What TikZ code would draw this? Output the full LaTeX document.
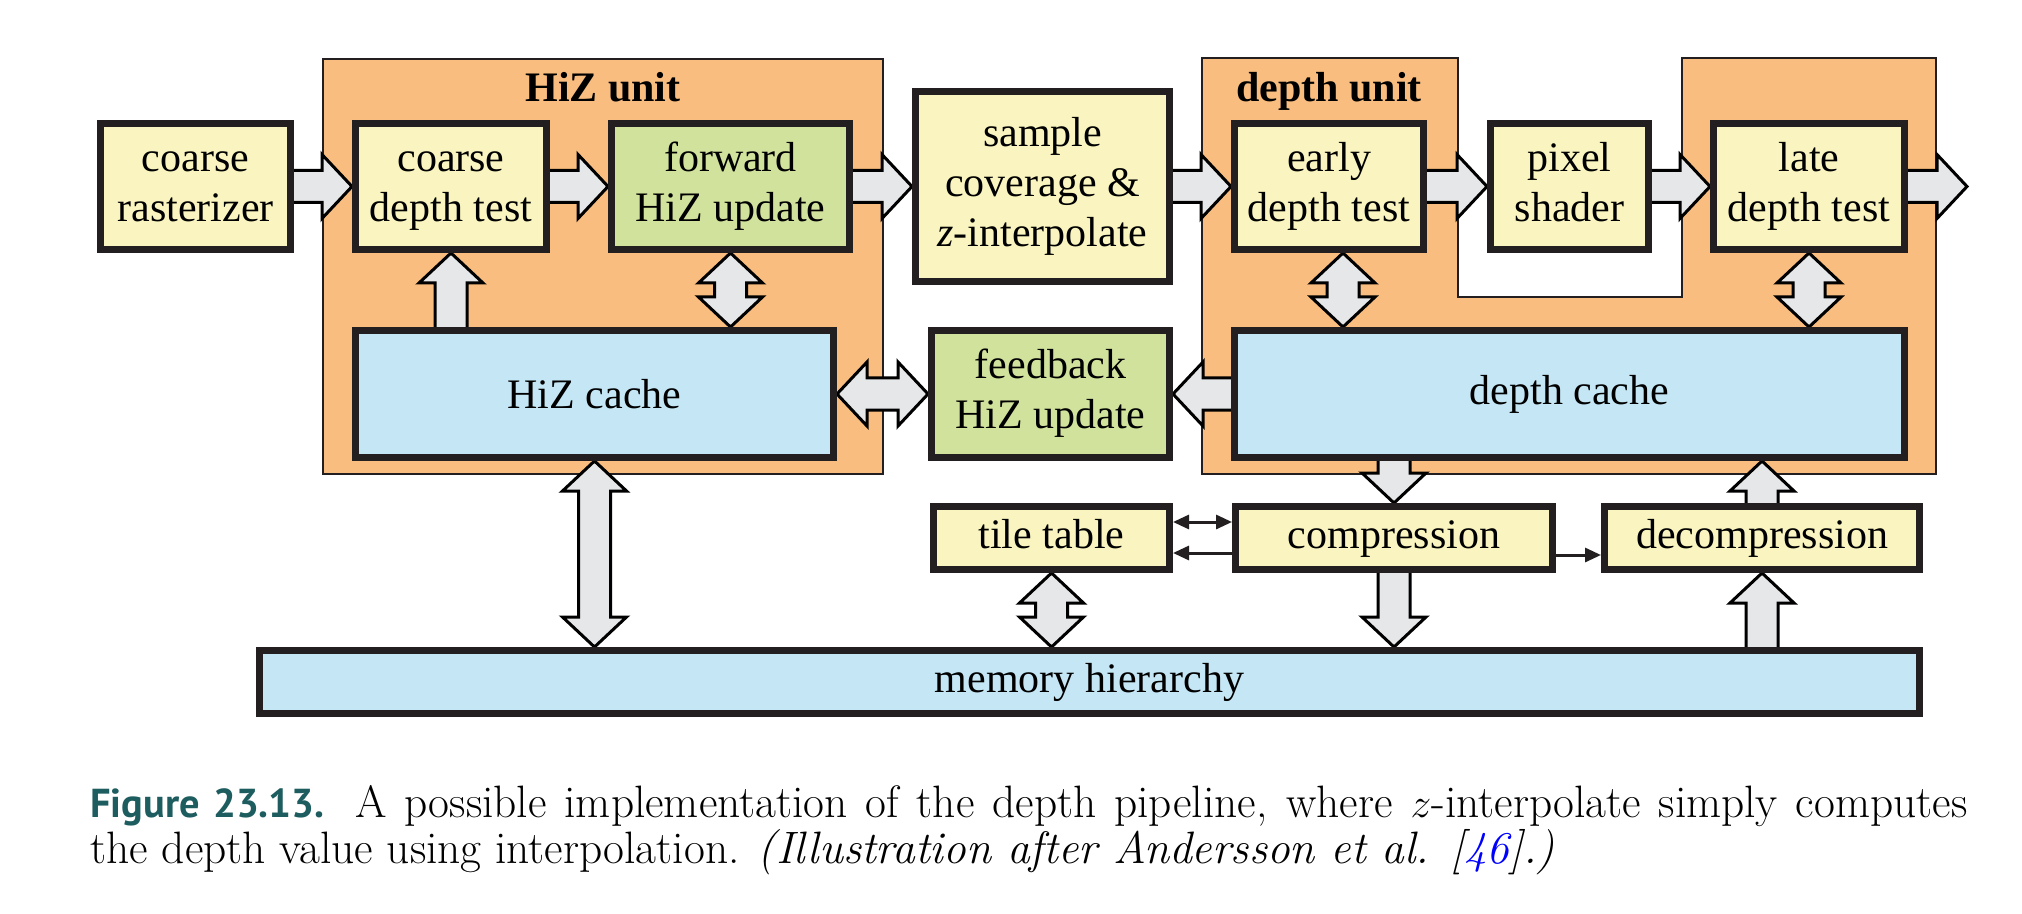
\documentclass[tikz,border=0pt]{standalone}
\usepackage{fontspec}
\usetikzlibrary{calc,arrows.meta}
\newfontfamily\diagfont{Liberation Serif}
\newfontfamily\figfont{PT Sans}
\definecolor{orng}{HTML}{F9BD7F}
\definecolor{ylw}{HTML}{FAF5C0}
\definecolor{grn}{HTML}{D1E29D}
\definecolor{blu}{HTML}{C5E7F5}
\definecolor{agray}{HTML}{E6E7E9}
\definecolor{ink}{HTML}{231F20}
\definecolor{teal}{HTML}{1D5C5F}
\pgfdeclarelayer{back}
\pgfdeclarelayer{mid}
\pgfsetlayers{back,mid,main}
\tikzset{
  box/.style={draw=ink, line width=3.5pt, inner sep=0pt, align=center,
    font=\diagfont\fontsize{21}{25}\selectfont},
  ybox/.style={box, fill=ylw},
  gbox/.style={box, fill=grn},
  bbox/.style={box, fill=blu},
  unit/.style={fill=orng, draw=ink, line width=1pt},
  utitle/.style={font=\diagfont\bfseries\fontsize{21}{25}\selectfont, anchor=base, inner sep=0pt},
  blk/.style={fill=agray, draw=black, line width=1.5pt, line join=miter},
  thinarr/.style={draw=ink, line width=1.5pt},
  captxt/.style={anchor=base west, inner sep=0pt, align=left, font=\fontsize{22.7}{21.5}\selectfont},
}
% block arrows (tail, tip)
\newcommand\arrR[2]{\draw[blk] let \p1=(#1),\p2=(#2) in
 (\x1-6pt,\y1+8pt) -- (\x2-15pt,\y1+8pt) -- (\x2-15pt,\y1+16pt) -- (\x2,\y1) -- (\x2-15pt,\y1-16pt) -- (\x2-15pt,\y1-8pt) -- (\x1-6pt,\y1-8pt) -- cycle;}
\newcommand\arrL[2]{\draw[blk] let \p1=(#1),\p2=(#2) in
 (\x1+6pt,\y1+8pt) -- (\x2+15pt,\y1+8pt) -- (\x2+15pt,\y1+16pt) -- (\x2,\y1) -- (\x2+15pt,\y1-16pt) -- (\x2+15pt,\y1-8pt) -- (\x1+6pt,\y1-8pt) -- cycle;}
\newcommand\arrU[2]{\draw[blk] let \p1=(#1),\p2=(#2) in
 (\x1+8pt,\y1-6pt) -- (\x1+8pt,\y2-15pt) -- (\x1+16pt,\y2-15pt) -- (\x1,\y2) -- (\x1-16pt,\y2-15pt) -- (\x1-8pt,\y2-15pt) -- (\x1-8pt,\y1-6pt) -- cycle;}
\newcommand\arrD[2]{\draw[blk] let \p1=(#1),\p2=(#2) in
 (\x1+8pt,\y1+6pt) -- (\x1+8pt,\y2+15pt) -- (\x1+16pt,\y2+15pt) -- (\x1,\y2) -- (\x1-16pt,\y2+15pt) -- (\x1-8pt,\y2+15pt) -- (\x1-8pt,\y1+6pt) -- cycle;}
\newcommand\darrV[2]{\draw[blk] let \p1=(#1),\p2=(#2) in
 (\x1,\y1) -- (\x1+16pt,\y1-15pt) -- (\x1+8pt,\y1-15pt) -- (\x1+8pt,\y2+15pt) -- (\x1+16pt,\y2+15pt) -- (\x1,\y2) -- (\x1-16pt,\y2+15pt) -- (\x1-8pt,\y2+15pt) -- (\x1-8pt,\y1-15pt) -- (\x1-16pt,\y1-15pt) -- cycle;}
\newcommand\darrH[2]{\draw[blk] let \p1=(#1),\p2=(#2) in
 (\x1,\y1) -- (\x1+15pt,\y1+16pt) -- (\x1+15pt,\y1+8pt) -- (\x2-15pt,\y1+8pt) -- (\x2-15pt,\y1+16pt) -- (\x2,\y1) -- (\x2-15pt,\y1-16pt) -- (\x2-15pt,\y1-8pt) -- (\x1+15pt,\y1-8pt) -- (\x1+15pt,\y1-16pt) -- cycle;}
\begin{document}
\begin{tikzpicture}[x=0.5pt, y=-0.5pt]
\useasboundingbox (0,0) rectangle (2022,914);
\begin{pgfonlayer}{back}
  \fill[white] (0,0) rectangle (2022,914);
  \draw[unit] (323,59) rectangle (883,474);
  \draw[unit] (1202,58) -- (1458,58) -- (1458,297) -- (1682,297) -- (1682,58) -- (1936,58) -- (1936,474) -- (1202,474) -- cycle;
\end{pgfonlayer}
\node[utitle] (hiztitle) at (603,102) {HiZ unit};
\node[utitle] (deptitle) at (1329,102) {depth unit};
% boxes
\node[ybox, minimum width=95pt, minimum height=63pt] (cr) at (195.5,186.5) {\strut coarse\\rasterizer\strut};
\node[ybox, minimum width=95.5pt, minimum height=63pt] (cdt) at (451,186.5) {\strut coarse\\depth test\strut};
\node[gbox, minimum width=119pt, minimum height=63pt] (fwd) at (730.5,186.5) {\strut forward\\HiZ update\strut};
\node[bbox, minimum width=239pt, minimum height=63.5pt] (hizc) at (594.5,394) {HiZ cache};
\node[ybox, minimum width=127pt, minimum height=95pt] (sam) at (1042.5,186.5) {\strut sample\\coverage \&\\\textit{z}-interpolate\strut};
\node[gbox, minimum width=119pt, minimum height=63.5pt] (fb) at (1050.5,394) {\strut feedback\\HiZ update\strut};
\node[ybox, minimum width=94.5pt, minimum height=63pt] (edt) at (1329,186.5) {\strut early\\depth test\strut};
\node[ybox, minimum width=79pt, minimum height=63pt] (ps) at (1569.5,186.5) {\strut pixel\\shader\strut};
\node[ybox, minimum width=95.5pt, minimum height=63pt] (ldt) at (1809,186.5) {\strut late\\depth test\strut};
\node[bbox, minimum width=335pt, minimum height=63.5pt] (dc) at (1569.5,394) {depth cache};
\node[ybox, minimum width=118pt, minimum height=31.5pt] (tt) at (1051.5,538) {\strut tile table};
\node[ybox, minimum width=158.5pt, minimum height=31.5pt] (comp) at (1394,538) {\strut compression};
\node[ybox, minimum width=157.5pt, minimum height=31.5pt] (decomp) at (1762,538) {\strut decompression};
\node[bbox, minimum width=830pt, minimum height=31.5pt] (mem) at (1089.5,682) {memory hierarchy};
\coordinate (out) at (1967,186.5);
% block arrows
\begin{pgfonlayer}{mid}
  \arrR{cr.east}{cdt.west}
  \arrR{cdt.east}{fwd.west}
  \arrR{fwd.east}{sam.west}
  \arrR{sam.east}{edt.west}
  \arrR{edt.east}{ps.west}
  \arrR{ps.east}{ldt.west}
  \arrR{ldt.east}{out}
  \arrU{cdt.south |- hizc.north}{cdt.south}
  \darrV{fwd.south}{fwd.south |- hizc.north}
  \darrV{$(edt.south)+(14,0)$}{$(edt.south |- dc.north)+(14,0)$}
  \darrV{ldt.south}{ldt.south |- dc.north}
  \darrH{hizc.east |- fb.west}{fb.west}
  \arrL{dc.west |- fb.east}{fb.east}
  \arrD{comp.north |- dc.south}{comp.north}
  \arrU{decomp.north}{decomp.north |- dc.south}
  \darrV{hizc.south}{hizc.south |- mem.north}
  \darrV{tt.south}{tt.south |- mem.north}
  \arrD{comp.south}{comp.south |- mem.north}
  \arrU{decomp.south |- mem.north}{decomp.south}
\end{pgfonlayer}
% small arrows
\draw[thinarr, {Triangle[length=8pt,width=7pt]}-{Triangle[length=8pt,width=7pt]}] ($(tt.east)+(0,-16)$) -- ($(comp.west)+(0,-16)$);
\draw[thinarr, -{Triangle[length=8pt,width=7pt]}] ($(comp.west)+(0,15)$) -- ($(tt.east)+(0,15)$);
\draw[thinarr, -{Triangle[length=8pt,width=7pt]}] ($(comp.east)+(0,17)$) -- ($(decomp.west)+(0,17)$);
% caption (base anchor is the baseline of the last line)
\node[captxt] (cap) at (90,863)
  {\makebox[938.5pt][s]{{\figfont\bfseries\fontsize{20.2}{21.5}\selectfont\color{teal}Figure 23.13.} A possible implementation of the depth pipeline, where $z$-interpolate simply computes}\\
   the depth value using interpolation. \textit{(Illustration after Andersson et al. [{\color{blue}46}].)}};
\end{tikzpicture}
\end{document}
